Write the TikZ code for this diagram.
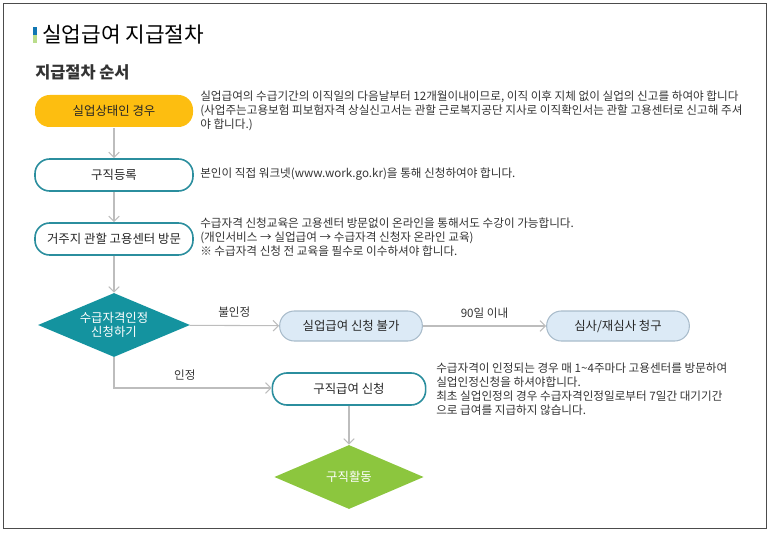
\documentclass[tikz,border=0pt]{standalone}
\usepackage{fontspec}
\setmainfont{Noto Sans CJK KR}
\usetikzlibrary{shapes.geometric,arrows.meta}
\definecolor{stepyellow}{HTML}{FDBE10}
\definecolor{stepteal}{HTML}{2B8E9E}
\definecolor{diateal}{HTML}{14939F}
\definecolor{paleblue}{HTML}{DCEAF6}
\definecolor{paleline}{HTML}{A9BCCB}
\definecolor{stepgreen}{HTML}{8CC63E}
\definecolor{flowgray}{HTML}{BDBDBD}
\tikzset{
  stepbox/.style={rounded corners=11pt, minimum width=118.5pt, minimum height=24pt, draw=stepteal, line width=1.2pt, fill=white, font=\fontsize{9.3}{11}\selectfont, text=black!85},
  paletbox/.style={stepbox, minimum width=107pt, minimum height=22.5pt, draw=paleline, line width=0.8pt, fill=paleblue},
  decision/.style={diamond, aspect=2.35, inner sep=0pt, minimum width=114pt, minimum height=48pt, text=white, font=\fontsize{9.3}{11}\selectfont, align=center},
  note/.style={anchor=north west, inner sep=0pt, align=left, font=\fontsize{8.7}{10.5}\selectfont, text=black!80},
  flow/.style={draw=flowgray, line width=0.8pt, -{Straight Barb[length=4pt,width=8pt]}},
  flowlabel/.style={font=\fontsize{8.7}{10}\selectfont, text=black!80}
}
\begin{document}
\begin{tikzpicture}[x=0.75pt,y=-0.75pt]
\useasboundingbox (0,0) rectangle (773,534);
\draw[black!70, line width=0.6pt] (3,3) rectangle (766,528);
% heading
\fill[diateal!80!blue] (33,27) rectangle (37,35);
\fill[stepgreen!60] (33,35) rectangle (37,43);
\node[anchor=west, inner sep=0pt, font=\fontsize{16}{18}\selectfont] (title) at (42,35) {실업급여 지급절차};
\node[anchor=west, inner sep=0pt, font=\fontsize{12.3}{14}\selectfont\bfseries, text=black!80] (subtitle) at (35,72) {지급절차 순서};
% steps
\node[stepbox, draw=none, fill=stepyellow] (jobless) at (114,111) {실업상태인 경우};
\node[stepbox] (register) at (114,175) {구직등록};
\node[stepbox] (visit) at (114,239) {거주지 관할 고용센터 방문};
\node[decision, fill=diateal] (qualify) at (114,325) {수급자격인정\\신청하기};
\node[paletbox] (denied) at (351,326) {실업급여 신청 불가};
\node[paletbox] (review) at (618,326) {심사/재심사 청구};
\node[stepbox, minimum width=115pt] (apply) at (349,389) {구직급여 신청};
\node[decision, fill=stepgreen, minimum width=112pt] (search) at (349,477) {구직활동};
\coordinate (corner) at (114,388);
% connectors
\draw[flow] (jobless) -- (register);
\draw[flow] (register) -- (visit);
\draw[flow] (visit) -- (qualify);
\draw[flow] (qualify) -- node[flowlabel, above=2pt] {불인정} (denied);
\draw[flow] (denied) -- node[flowlabel, above=2pt] {90일 이내} (review);
\draw[flow] (qualify.south) -- (corner) -- node[flowlabel, above=2pt, pos=0.45] {인정} (apply.west |- corner);
\draw[flow] (apply) -- (search);
% notes
\node[note] (note1) at (200,91) {실업급여의 수급기간의 이직일의 다음날부터 12개월이내이므로, 이직 이후 지체 없이 실업의 신고를 하여야 합니다\\(사업주는고용보험 피보험자격 상실신고서는 관할 근로복지공단 지사로 이직확인서는 관할 고용센터로 신고해 주셔\\야 합니다.)};
\node[note] (note2) at (200,168) {본인이 직접 워크넷(www.work.go.kr)을 통해 신청하여야 합니다.};
\node[note] (note3) at (200,218) {수급자격 신청교육은 고용센터 방문없이 온라인을 통해서도 수강이 가능합니다.\\(개인서비스 → 실업급여 → 수급자격 신청자 온라인 교육)\\※ 수급자격 신청 전 교육을 필수로 이수하셔야 합니다.};
\node[note] (note4) at (436,363) {수급자격이 인정되는 경우 매 1\textasciitilde4주마다 고용센터를 방문하여\\실업인정신청을 하셔야합니다.\\최초 실업인정의 경우 수급자격인정일로부터 7일간 대기기간\\으로 급여를 지급하지 않습니다.};
\end{tikzpicture}
\end{document}
